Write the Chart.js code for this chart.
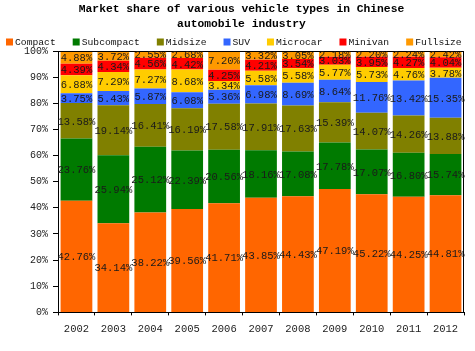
<!DOCTYPE html>
<html>
<head>
<meta charset="utf-8">
<script src="https://cdn.jsdelivr.net/npm/chart.js@4/dist/chart.umd.min.js"></script>
<style>
html,body{margin:0;padding:0;background:#fff;}
#wrap{position:relative;width:475px;height:351px;}
</style>
</head>
<body>
<div id="wrap"><canvas id="c"></canvas></div>
<script>
const years = ['2002','2003','2004','2005','2006','2007','2008','2009','2010','2011','2012'];
const seriesNames = ['Compact','Subcompact','Midsize','SUV','Microcar','Minivan','Fullsize'];
const compact    = [42.76, 34.14, 38.22, 39.56, 41.71, 43.85, 44.43, 47.19, 45.22, 44.25, 44.81];
const subcompact = [23.76, 25.94, 25.12, 22.39, 20.56, 18.16, 17.08, 17.78, 17.07, 16.80, 15.74];
const midsize    = [13.58, 19.14, 16.41, 16.19, 17.58, 17.91, 17.63, 15.39, 14.07, 14.26, 13.88];
const suv        = [3.75, 5.43, 5.87, 6.08, 5.36, 6.98, 8.69, 8.64, 11.76, 13.42, 15.35];
const microcar   = [6.88, 7.29, 7.27, 8.68, 3.34, 5.58, 5.58, 5.77, 5.73, 4.76, 3.78];
const minivan    = [4.39, 4.34, 4.56, 4.42, 4.25, 4.21, 3.54, 3.03, 3.95, 4.27, 4.04];
const fullsize   = [4.88, 3.72, 2.55, 2.68, 7.20, 3.32, 3.05, 2.18, 2.20, 2.24, 2.42];
const yTicks = [0,10,20,30,40,50,60,70,80,90,100];
const titleLines = ['Market share of various vehicle types in Chinese','automobile industry'];

const seriesValues = [compact, subcompact, midsize, suv, microcar, minivan, fullsize];
const seriesColors = ['#FF6600','#007A00','#808000','#3366FF','#FFCC00','#FF0000','#FF9900'];
const MONO = '"Liberation Mono", "DejaVu Sans Mono", monospace';

const datasets = seriesNames.map((name, i) => ({
  label: name,
  data: seriesValues[i],
  backgroundColor: seriesColors[i],
  borderWidth: 0,
  barPercentage: 0.86,
  categoryPercentage: 1.0
}));

const labelPlugin = {
  id: 'segLabels',
  afterDatasetsDraw(chart) {
    const ctx = chart.ctx;
    const a = chart.chartArea;
    ctx.save();
    ctx.strokeStyle = '#000';
    ctx.lineWidth = 1;
    ctx.strokeRect(Math.round(a.left) + 0.5, Math.round(a.top) + 0.5, Math.round(a.right - a.left) - 1, Math.round(a.bottom - a.top));
    ctx.font = '10.5px ' + MONO;
    ctx.fillStyle = '#1a1a1a';
    ctx.textAlign = 'center';
    ctx.textBaseline = 'middle';
    chart.data.datasets.forEach((ds, i) => {
      const meta = chart.getDatasetMeta(i);
      meta.data.forEach((bar, j) => {
        const p = bar.getProps(['x','y','base'], true);
        ctx.fillText(ds.data[j].toFixed(2) + '%', p.x, (p.y + p.base) / 2 + 1);
      });
    });
    ctx.restore();
  }
};

const legendPlugin = {
  id: 'manualLegend',
  afterDraw(chart) {
    const ctx = chart.ctx;
    ctx.save();
    ctx.font = '9.7px ' + MONO;
    ctx.textBaseline = 'middle';
    ctx.textAlign = 'left';
    let x = 6;
    const y = 42;
    chart.data.datasets.forEach((ds) => {
      ctx.fillStyle = ds.backgroundColor;
      ctx.fillRect(x, y - 3.5, 7, 7);
      ctx.fillStyle = '#111';
      ctx.fillText(ds.label, x + 9, y);
      x += 9 + ctx.measureText(ds.label).width + 17;
    });
    ctx.restore();
  }
};

new Chart(document.getElementById('c'), {
  type: 'bar',
  data: { labels: years, datasets },
  plugins: [labelPlugin, legendPlugin],
  options: {
    responsive: true,
    maintainAspectRatio: false,
    animation: false,
    layout: { padding: { left: 19, right: 11, top: 0, bottom: 7 } },
    plugins: {
      legend: { display: false },
      tooltip: { enabled: false },
      title: {
        display: true,
        text: titleLines,
        color: '#000',
        font: { family: MONO, size: 11.3, weight: 'bold', lineHeight: 15 / 11.3 },
        padding: { top: 2, bottom: 19 }
      }
    },
    scales: {
      x: {
        stacked: true,
        border: { color: '#000', width: 1 },
        grid: { drawOnChartArea: false, tickLength: 3, color: '#000', offset: true },
        ticks: { color: '#222', padding: 8, font: { family: MONO, size: 10.5 } }
      },
      y: {
        stacked: true,
        min: 0,
        max: 100,
        afterBuildTicks(scale) { scale.ticks = yTicks.map(v => ({ value: v })); },
        border: { color: '#000', width: 1 },
        grid: { drawOnChartArea: false, tickLength: 5, color: '#000' },
        ticks: { color: '#222', padding: 5, font: { family: MONO, size: 10 }, callback: v => v + '%' }
      }
    }
  }
});
</script>
</body>
</html>
